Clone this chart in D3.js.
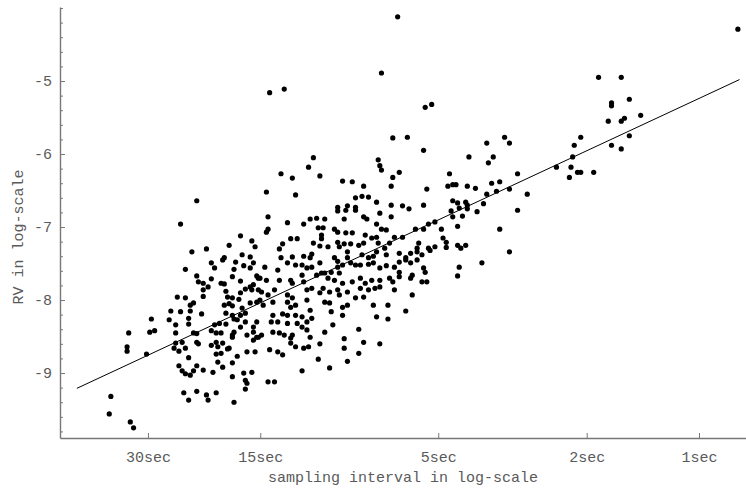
<!DOCTYPE html>
<html><head><meta charset="utf-8">
<script src="https://cdn.jsdelivr.net/npm/d3@7"></script>
<style>
html,body{margin:0;padding:0;background:#fff;}
svg{display:block;}
text{font-family:"Liberation Mono","Courier New",monospace;fill:#5a5a5a;}
</style></head>
<body>
<svg id="chart" width="746" height="489"></svg>
<script>
// x = ln(1 / sampling interval in seconds), y = ln(RV)
const tickSeconds = [30, 15, 5, 2, 1];
const tickLabels = ["30sec", "15sec", "5sec", "2sec", "1sec"];
const yMajorTicks = [-9, -8, -7, -6, -5];
const fitX = [-3.84, 0.25];
const fitY = [-9.21, -4.98];

const obs = [
[-3.10,-6.64],[-3.20,-6.96],[-3.13,-7.34],[-3.04,-7.30],[-2.90,-7.25],[-2.83,-7.12],[-2.76,-7.19],[-2.74,-7.27],
[-2.82,-7.38],[-2.77,-7.41],[-3.17,-7.58],[-3.01,-7.49],[-2.99,-7.56],[-2.94,-7.45],[-2.93,-7.42],[-2.86,-7.48],
[-2.87,-7.58],[-2.81,-7.53],[-2.77,-7.56],[-2.75,-7.49],[-3.10,-7.67],[-3.06,-7.77],[-3.09,-7.75],[-3.01,-7.71],
[-2.95,-7.77],[-2.93,-7.78],[-2.88,-7.68],[-2.83,-7.74],[-2.73,-7.67],[-2.72,-7.70],[-3.03,-7.82],[-3.06,-7.86],
[-2.92,-7.88],[-2.80,-7.85],[-2.77,-7.82],[-2.75,-7.79],[-2.76,-7.86],[-2.72,-7.86],[-2.83,-7.90],
[-3.22,-7.96],[-3.17,-7.97],[-3.06,-7.95],[-2.91,-7.96],[-2.88,-7.97],[-2.84,-7.99],[-3.12,-8.04],[-3.14,-8.07],
[-3.26,-8.15],[-3.20,-8.16],[-3.14,-8.15],[-3.07,-8.19],[-2.93,-8.07],[-2.90,-8.05],[-2.88,-8.08],[-2.82,-8.11],
[-2.77,-8.04],[-2.73,-8.03],[-2.92,-8.18],[-2.88,-8.21],[-2.83,-8.21],[-2.85,-8.27],[-2.80,-8.18],[-3.38,-8.26],
[-3.27,-8.27],[-3.23,-8.34],[-3.15,-8.25],[-3.15,-8.33],[-2.99,-8.34],[-2.96,-8.32],[-2.92,-8.33],[-2.87,-8.26],
[-2.83,-8.37],[-2.80,-8.30],[-2.75,-8.37],[-2.73,-8.30],[-3.52,-8.45],[-3.39,-8.44],[-3.36,-8.42],[-3.23,-8.45],
[-3.12,-8.45],[-3.10,-8.46],[-3.01,-8.42],[-2.98,-8.45],[-2.95,-8.45],[-2.88,-8.48],[-2.87,-8.44],[-2.79,-8.48],
[-2.75,-8.44],[-2.73,-8.51],[-3.53,-8.64],[-3.53,-8.70],[-3.41,-8.74],[-3.23,-8.59],[-3.19,-8.58],[-3.24,-8.66],
[-3.21,-8.70],[-3.17,-8.66],[-3.10,-8.58],[-3.09,-8.60],[-3.01,-8.62],[-2.98,-8.58],[-2.97,-8.64],[-2.94,-8.59],
[-2.91,-8.67],[-2.90,-8.66],[-2.88,-8.51],[-2.98,-8.74],[-2.95,-8.73],[-2.85,-8.77],[-2.79,-8.71],[-2.75,-8.55],
[-2.74,-8.71],[-2.72,-8.51],[-3.15,-8.79],[-3.21,-8.90],[-3.19,-8.97],[-3.17,-9.01],[-3.14,-9.03],[-3.12,-8.97],
[-3.10,-8.90],[-3.06,-8.96],[-3.00,-8.99],[-2.97,-8.85],[-2.94,-8.92],[-2.88,-8.86],[-2.88,-9.05],[-2.81,-9.00],
[-2.80,-9.10],[-2.79,-9.14],[-2.76,-8.99],[-3.63,-9.32],[-3.64,-9.56],[-3.51,-9.67],[-3.49,-9.75],[-3.18,-9.27],
[-3.15,-9.37],[-3.10,-9.25],[-3.04,-9.30],[-3.03,-9.37],[-2.98,-9.27],[-2.87,-9.40],[-2.80,-9.22],
[-1.69,-5.36],[-1.65,-5.32],[-1.89,-5.78],[-1.80,-5.77],[-1.70,-5.95],[-2.38,-6.05],[-2.41,-6.18],[-2.58,-6.27],
[-2.51,-6.33],[-2.34,-6.30],[-2.67,-6.52],[-2.49,-6.56],[-1.98,-6.08],[-1.97,-6.16],[-1.96,-6.22],[-1.85,-6.25],
[-1.89,-6.32],[-2.20,-6.37],[-2.14,-6.38],[-2.07,-6.44],[-1.90,-6.44],[-1.68,-6.48],[-2.12,-6.60],[-2.08,-6.58],
[-2.04,-6.59],[-1.99,-6.66],[-2.23,-6.73],[-2.17,-6.71],[-2.12,-6.73],[-1.90,-6.70],[-1.83,-6.71],[-1.79,-6.75],
[-1.70,-6.70],[-2.23,-6.78],[-2.18,-6.77],[-2.12,-6.77],[-1.97,-6.81],[-1.90,-6.86],[-2.66,-6.86],[-2.54,-6.94],
[-2.44,-6.96],[-2.40,-6.89],[-2.36,-6.88],[-2.31,-6.89],[-2.19,-6.89],[-2.07,-6.86],[-2.05,-6.89],[-1.99,-6.96],
[-2.66,-7.03],[-2.67,-7.07],[-2.35,-7.01],[-2.32,-7.01],[-2.25,-7.03],[-2.23,-7.07],[-2.18,-7.08],[-2.14,-7.08],
[-1.96,-7.03],[-1.93,-7.04],[-1.75,-7.03],[-1.70,-7.03],[-1.67,-6.96],[-1.63,-6.93],[-2.57,-7.23],[-2.52,-7.16],
[-2.48,-7.16],[-2.33,-7.11],[-2.33,-7.16],[-2.38,-7.22],[-2.34,-7.26],[-2.29,-7.27],[-2.23,-7.21],[-2.22,-7.27],
[-2.19,-7.23],[-2.15,-7.23],[-2.10,-7.25],[-2.07,-7.22],[-2.06,-7.11],[-2.02,-7.15],[-1.99,-7.14],[-1.98,-7.22],
[-1.94,-7.29],[-1.91,-7.22],[-1.88,-7.14],[-1.83,-7.14],[-2.59,-7.30],[-1.73,-7.22],[-1.74,-7.29],[-1.67,-7.29],
[-1.63,-7.27],
[-2.58,-7.42],[-2.51,-7.41],[-2.44,-7.40],[-2.39,-7.37],[-2.40,-7.42],[-2.25,-7.42],[-2.23,-7.47],[-2.17,-7.34],
[-2.17,-7.42],[-2.08,-7.38],[-2.04,-7.42],[-2.01,-7.40],[-1.99,-7.34],[-1.93,-7.38],[-1.85,-7.36],[-1.81,-7.42],
[-1.78,-7.36],[-1.74,-7.34],[-1.71,-7.38],[-1.66,-7.32],[-2.68,-7.55],[-2.60,-7.59],[-2.54,-7.49],[-2.49,-7.52],
[-2.45,-7.52],[-2.42,-7.56],[-2.39,-7.55],[-2.34,-7.49],[-2.31,-7.63],[-2.27,-7.62],[-2.23,-7.55],[-2.20,-7.52],
[-2.15,-7.49],[-2.12,-7.52],[-2.09,-7.52],[-2.04,-7.51],[-2.01,-7.49],[-1.97,-7.56],[-1.93,-7.53],[-1.88,-7.55],
[-1.85,-7.48],[-1.81,-7.45],[-1.78,-7.49],[-1.74,-7.45],[-1.70,-7.56],[-1.69,-7.62],[-2.71,-7.70],[-2.67,-7.73],
[-2.59,-7.73],[-2.52,-7.73],[-2.51,-7.77],[-2.45,-7.66],[-2.44,-7.75],[-2.36,-7.66],[-2.33,-7.63],[-2.29,-7.70],
[-2.25,-7.73],[-2.22,-7.63],[-2.20,-7.77],[-2.14,-7.75],[-2.09,-7.70],[-2.06,-7.77],[-2.02,-7.73],[-1.97,-7.73],
[-1.91,-7.70],[-1.89,-7.75],[-1.85,-7.68],[-1.78,-7.70],[-1.77,-7.66],[-1.71,-7.75],[-1.68,-7.75],[-1.85,-7.62],
[-2.70,-7.89],[-2.66,-7.93],[-2.62,-7.86],[-2.54,-7.93],[-2.51,-7.97],[-2.42,-7.86],[-2.39,-7.84],[-2.34,-7.90],
[-2.32,-7.84],[-2.28,-7.89],[-2.23,-7.86],[-2.22,-7.93],[-2.17,-7.89],[-2.12,-7.97],[-2.09,-7.84],[-2.07,-7.96],
[-2.04,-7.86],[-2.00,-7.84],[-1.97,-7.82],[-1.88,-7.86],[-1.77,-7.93],[-2.71,-8.00],[-2.69,-8.07],[-2.63,-8.03],
[-2.54,-8.03],[-2.52,-8.10],[-2.49,-8.07],[-2.42,-8.00],[-2.40,-8.14],[-2.31,-8.03],[-2.28,-8.04],[-2.27,-8.16],
[-2.20,-8.10],[-2.17,-8.07],[-2.01,-8.07],[-1.92,-8.07],[-1.81,-8.15],[-2.63,-8.21],[-2.57,-8.19],[-2.54,-8.21],
[-2.49,-8.21],[-2.45,-8.23],[-2.42,-8.30],[-2.39,-8.25],[-2.26,-8.34],[-2.20,-8.21],[-1.99,-8.23],[-1.92,-8.26],
[-2.64,-8.30],[-2.60,-8.30],[-2.54,-8.32],[-2.48,-8.32],[-2.45,-8.37],[-2.70,-8.48],[-2.63,-8.44],[-2.59,-8.45],
[-2.56,-8.48],[-2.51,-8.48],[-2.42,-8.41],[-2.40,-8.51],[-2.31,-8.44],[-2.10,-8.40],[-2.52,-8.52],[-2.65,-8.68],
[-2.60,-8.71],[-2.57,-8.75],[-2.52,-8.59],[-2.49,-8.64],[-2.44,-8.66],[-2.41,-8.64],[-2.34,-8.60],[-2.19,-8.53],
[-2.19,-8.66],[-2.10,-8.73],[-2.07,-8.58],[-1.97,-8.60],[-2.35,-8.81],[-2.17,-8.84],[-2.28,-8.93],[-2.45,-8.97],
[-2.66,-9.12],[-2.62,-9.12],
[-1.31,-5.85],[-1.20,-5.77],[-1.17,-5.85],[-1.42,-6.04],[-1.30,-6.12],[-1.27,-6.04],[-0.77,-5.88],[-0.78,-6.04],
[-1.54,-6.27],[-1.12,-6.27],[-0.88,-6.18],[-0.79,-6.18],[-0.75,-6.25],[-0.80,-6.32],[-1.55,-6.44],[-1.52,-6.42],
[-1.50,-6.42],[-1.43,-6.44],[-1.38,-6.47],[-1.28,-6.40],[-1.23,-6.38],[-1.25,-6.51],[-1.17,-6.48],[-1.31,-6.55],
[-1.06,-6.55],[-1.52,-6.64],[-1.49,-6.67],[-1.44,-6.66],[-1.43,-6.70],[-1.33,-6.68],[-1.53,-6.78],[-1.48,-6.74],
[-1.43,-6.75],[-1.52,-6.86],[-1.46,-6.85],[-1.37,-6.79],[-1.12,-6.77],[-1.59,-7.03],[-1.49,-6.99],[-1.23,-7.03],
[-1.58,-7.15],[-1.56,-7.21],[-1.56,-7.28],[-1.49,-7.25],[-1.47,-7.29],[-1.44,-7.25],[-1.17,-7.34],[-1.48,-7.55],
[-1.34,-7.49],[-1.49,-7.67],
[0.24,-4.29],[-0.62,-4.95],[-0.48,-4.95],[-0.43,-5.25],[-0.54,-5.30],[-0.54,-5.34],[-0.56,-5.55],[-0.48,-5.55],
[-0.46,-5.51],[-0.36,-5.47],[-0.73,-5.77],[-0.43,-5.75],[-0.54,-5.88],[-0.48,-5.93],[-0.73,-6.25],[-0.65,-6.25],
[-1.86,-4.12],[-1.96,-4.89],[-2.65,-5.16],[-2.56,-5.11]
];

const svg = d3.select("#chart");
const x = d3.scaleLinear().domain([-3.944, 0.290]).range([60, 746]);
const y = d3.scaleLinear().domain([-9.89, -3.986]).range([438, 7]);

svg.append("line")
  .attr("x1", x(fitX[0])).attr("y1", y(fitY[0]))
  .attr("x2", x(fitX[1])).attr("y2", y(fitY[1]))
  .attr("stroke", "#000").attr("stroke-width", 1);

svg.append("g").selectAll("circle").data(obs).join("circle")
  .attr("cx", d => x(d[0])).attr("cy", d => y(d[1]))
  .attr("r", 2.6).attr("fill", "#000");

const axisColor = "#777";
const xTickVals = tickSeconds.map(s => Math.log(1 / s));
const xAxis = d3.axisBottom(x).tickValues(xTickVals).tickSizeInner(-5).tickSizeOuter(0)
  .tickFormat((d, i) => tickLabels[i]);
const gx = svg.append("g").attr("transform", "translate(0,438)").call(xAxis);
gx.select(".domain").attr("stroke", axisColor).attr("stroke-width", 1.4);
gx.selectAll(".tick line").attr("stroke", axisColor).attr("stroke-width", 1);
gx.selectAll(".tick text").attr("y", 13).attr("font-size", 15)
  .attr("font-family", "Liberation Mono").attr("fill", "#5a5a5a");

const yMinor = d3.range(-9.8, -3.9, 0.2).map(v => +v.toFixed(1)).filter(v => !yMajorTicks.includes(v));
const yAxisMinor = d3.axisLeft(y).tickValues(yMinor).tickSizeInner(-3).tickSizeOuter(0).tickFormat("");
const gyMinor = svg.append("g").attr("transform", "translate(60,0)").call(yAxisMinor);
gyMinor.selectAll(".tick line").attr("stroke", axisColor);
gyMinor.select(".domain").remove();
const yAxis = d3.axisLeft(y).tickValues(yMajorTicks).tickSizeInner(-5).tickSizeOuter(0)
  .tickFormat(d => "-" + Math.abs(d));
const gy = svg.append("g").attr("transform", "translate(60,0)").call(yAxis);
gy.select(".domain").attr("stroke", axisColor).attr("stroke-width", 1.4);
gy.selectAll(".tick line").attr("stroke", axisColor);
gy.selectAll(".tick text").attr("x", -8).attr("font-size", 15)
  .attr("font-family", "Liberation Mono").attr("fill", "#5a5a5a");

svg.append("text").attr("x", 403).attr("y", 482).attr("text-anchor", "middle")
  .attr("font-size", 15).text("sampling interval in log-scale");
svg.append("text").attr("transform", "translate(23,237) rotate(-90)").attr("text-anchor", "middle")
  .attr("font-size", 15).text("RV in log-scale");
</script>
</body></html>
